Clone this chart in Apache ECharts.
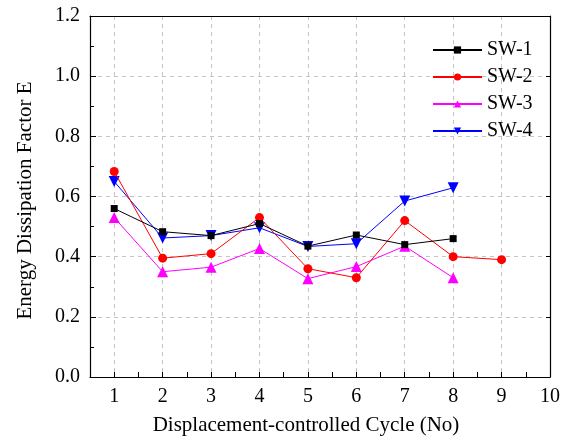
<!DOCTYPE html>
<html>
<head>
<meta charset="utf-8">
<script src="https://cdn.jsdelivr.net/npm/echarts@6/dist/echarts.min.js"></script>
<style>
  html, body { margin: 0; padding: 0; background: #fff; }
  #chart { width: 570px; height: 439px; }
</style>
</head>
<body>
<div id="chart"></div>
<script>
// Displacement-controlled cycle numbers
const cycles = [1, 2, 3, 4, 5, 6, 7, 8, 9];

// Energy dissipation factor E per specimen
const sw1 = [0.56, 0.483, 0.47, 0.51, 0.435, 0.472, 0.44, 0.46];
const sw2 = [0.683, 0.395, 0.41, 0.53, 0.36, 0.33, 0.52, 0.40, 0.39];
const sw3 = [0.53, 0.35, 0.365, 0.427, 0.327, 0.367, 0.435, 0.33];
const sw4 = [0.65, 0.462, 0.47, 0.496, 0.434, 0.443, 0.585, 0.629];

const seriesNames = ['SW-1', 'SW-2', 'SW-3', 'SW-4'];
const seriesColors = ['#000000', '#ff0000', '#ff00ff', '#0000ff'];

const FONT = '"Liberation Serif", "Times New Roman", serif';

function pairs(values) {
  return values.map((v, i) => [cycles[i], v]);
}

const markerDefs = [
  { symbol: 'rect', symbolSize: 7, symbolRotate: 0 },
  { symbol: 'circle', symbolSize: 9, symbolRotate: 0 },
  { symbol: 'triangle', symbolSize: 11, symbolRotate: 0 },
  { symbol: 'triangle', symbolSize: 11, symbolRotate: 180 }
];

const allValues = [sw1, sw2, sw3, sw4];

const series = allValues.map((vals, k) => ({
  name: seriesNames[k],
  type: 'line',
  data: pairs(vals),
  symbol: markerDefs[k].symbol,
  symbolSize: markerDefs[k].symbolSize,
  symbolRotate: markerDefs[k].symbolRotate,
  showAllSymbol: true,
  lineStyle: { color: seriesColors[k], width: 1 },
  itemStyle: { color: seriesColors[k] },
  emphasis: { disabled: true },
  z: 10 - k
}));

const gridStyle = { color: '#c4c4c4', width: 1, type: [4, 4] };

const chart = echarts.init(document.getElementById('chart'), null, { renderer: 'canvas' });
chart.setOption({
  animation: false,
  backgroundColor: '#fff',
  grid: { left: 90, top: 16, right: 20, bottom: 62, containLabel: false, outerBoundsMode: 'none' },
  legend: {
    data: seriesNames,
    orient: 'vertical',
    left: 427,
    top: 35,
    itemWidth: 49,
    itemHeight: 9,
    itemGap: 7,
    textStyle: { fontFamily: FONT, fontSize: 20, color: '#000' },
    selectedMode: false
  },
  xAxis: [
    {
      type: 'value',
      min: 0.5,
      max: 10,
      interval: 0.5,
      name: 'Displacement-controlled Cycle (No)',
      nameLocation: 'middle',
      nameGap: 38,
      nameTextStyle: { fontFamily: FONT, fontSize: 21, color: '#000', padding: [0, 28, 0, 0] },
      axisLine: { show: true, onZero: false, lineStyle: { color: '#000', width: 1.2 } },
      axisTick: { show: true, inside: true, length: 5, lineStyle: { color: '#000' } },
      axisLabel: {
        fontFamily: FONT, fontSize: 20, color: '#000', margin: 10,
        formatter: v => (Math.abs(v - Math.round(v)) < 1e-9 ? String(Math.round(v)) : '')
      },
      splitLine: {
        show: true,
        showMinLine: true,
        lineStyle: { color: ['rgba(0,0,0,0)', '#c4c4c4'], width: 1, type: [4, 4] }
      }
    },
    {
      type: 'value',
      position: 'top',
      min: 0.5,
      max: 10,
      interval: 0.5,
      axisLine: { show: true, onZero: false, lineStyle: { color: '#000', width: 1.2 } },
      axisTick: { show: false },
      axisLabel: { show: false },
      splitLine: { show: false }
    }
  ],
  yAxis: [
    {
      type: 'value',
      min: 0,
      max: 1.2,
      interval: 0.2,
      name: 'Energy Dissipation Factor E',
      nameLocation: 'middle',
      nameGap: 54,
      nameTextStyle: { fontFamily: FONT, fontSize: 21, color: '#000', padding: [0, 8, 0, 0] },
      axisLine: { show: true, onZero: false, lineStyle: { color: '#000', width: 1.2 } },
      axisTick: { show: true, inside: true, length: 6, lineStyle: { color: '#000' } },
      minorTick: { show: true, splitNumber: 2, length: 4, lineStyle: { color: '#000' } },
      axisLabel: {
        fontFamily: FONT, fontSize: 20, color: '#000', margin: 10,
        formatter: v => v.toFixed(1)
      },
      splitLine: { show: true, lineStyle: gridStyle }
    },
    {
      type: 'value',
      position: 'right',
      min: 0,
      max: 1.2,
      interval: 0.2,
      axisLine: { show: true, onZero: false, lineStyle: { color: '#000', width: 1.2 } },
      axisTick: { show: true, inside: true, length: 4, lineStyle: { color: '#000' } },
      axisLabel: { show: false },
      splitLine: { show: false }
    }
  ],
  series: series
});
</script>
</body>
</html>
